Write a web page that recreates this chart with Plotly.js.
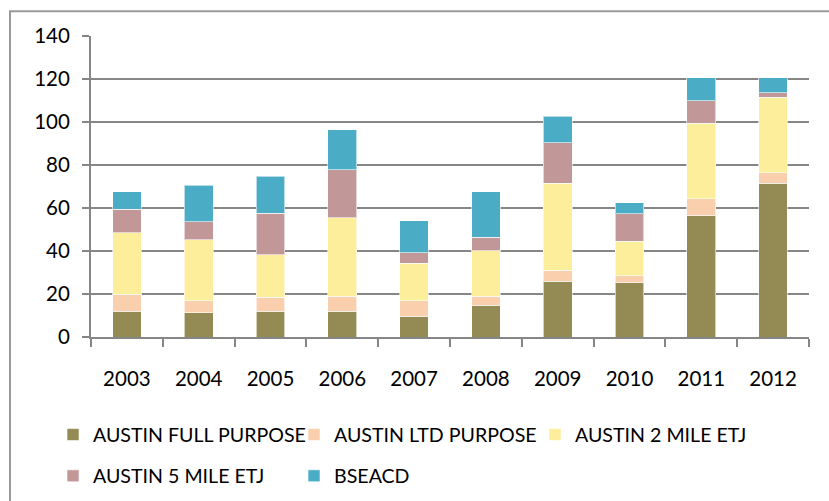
<!DOCTYPE html>
<html>
<head>
<meta charset="utf-8">
<script src="https://cdn.plot.ly/plotly-3.0.1.min.js"></script>
<style>html,body{margin:0;padding:0;background:#fff;}#chart{width:829px;height:501px;}</style>
</head>
<body>
<div id="chart"></div>
<script>
const years = ['2003','2004','2005','2006','2007','2008','2009','2010','2011','2012'];
const fullPurpose = [12, 11.3, 12, 12, 9.6, 14.7, 25.9, 25.2, 56.5, 71.4];
const ltdPurpose  = [8, 5.6, 6.5, 7, 7.3, 4.3, 5.2, 3.4, 7.7, 5.1];
const twoMileEtj  = [28.5, 28.3, 19.7, 36.4, 17.5, 21.1, 40.3, 16, 35.2, 35];
const fiveMileEtj = [11, 8.4, 19.3, 22.3, 4.9, 6.3, 19, 12.8, 10.4, 2];
const bseacd      = [8, 17.1, 17.2, 18.6, 14.7, 21.1, 12.2, 5, 10.8, 7.1];
const seriesNames = ['AUSTIN FULL PURPOSE','AUSTIN LTD PURPOSE','AUSTIN 2 MILE ETJ','AUSTIN 5 MILE ETJ','BSEACD'];
const yTicks = [0, 20, 40, 60, 80, 100, 120, 140];

const colors = ['#948A54', '#F9CFAE', '#FDEE9C', '#C29797', '#4BACC6'];
const values = [fullPurpose, ltdPurpose, twoMileEtj, fiveMileEtj, bseacd];
const legendIds = ['legend', 'legend', 'legend', 'legend2', 'legend2'];

const traces = values.map((v, i) => ({
  type: 'bar',
  name: seriesNames[i],
  x: years,
  y: v,
  legend: legendIds[i],
  marker: {color: colors[i], line: {color: 'rgba(255,255,255,0.6)', width: 1}},
  hoverinfo: 'x+y+name'
}));

const font = 'Lato, "Liberation Sans", sans-serif';
const legendCommon = {
  orientation: 'h',
  x: -0.0529, xanchor: 'left',
  yanchor: 'middle',
  font: {family: font, size: 19.6, color: '#000'},
  entrywidth: 196, entrywidthmode: 'pixels',
  bgcolor: 'rgba(0,0,0,0)',
  traceorder: 'normal',
  itemclick: false
};

const layout = {
  width: 829, height: 501,
  margin: {l: 91, r: 20, t: 36, b: 164, autoexpand: false},
  paper_bgcolor: '#fff', plot_bgcolor: '#fff',
  barmode: 'stack',
  bargap: 0.6,
  font: {family: font, size: 20, color: '#000'},
  showlegend: true,
  legend: Object.assign({}, legendCommon, {y: -0.325}),
  legend2: Object.assign({}, legendCommon, {y: -0.462}),
  xaxis: {
    type: 'category',
    showgrid: false,
    showline: true, linecolor: '#868686', linewidth: 2,
    ticks: 'outside', tickson: 'boundaries', ticklen: 8, tickwidth: 2, tickcolor: '#868686',
    ticklabelstandoff: 22,
    tickfont: {family: font, size: 20.5, color: '#000'},
    zeroline: false
  },
  yaxis: {
    range: [0, 140],
    tickvals: yTicks,
    ticktext: yTicks.map(String),
    showgrid: true, gridcolor: '#868686', gridwidth: 2,
    showline: true, linecolor: '#868686', linewidth: 2,
    ticks: 'outside', ticklen: 7, tickwidth: 2, tickcolor: '#868686',
    ticklabelstandoff: 8,
    tickfont: {family: font, size: 20.5, color: '#000'},
    zeroline: false
  },
  shapes: [{
    type: 'rect', xref: 'paper', yref: 'paper',
    x0: -0.1128, x1: 1.1, y0: -0.65, y1: 1.082,
    line: {color: '#9a9a9a', width: 2}, fillcolor: 'rgba(0,0,0,0)', layer: 'below'
  }]
};

Plotly.newPlot('chart', traces, layout, {displayModeBar: false, staticPlot: true});
</script>
</body>
</html>
